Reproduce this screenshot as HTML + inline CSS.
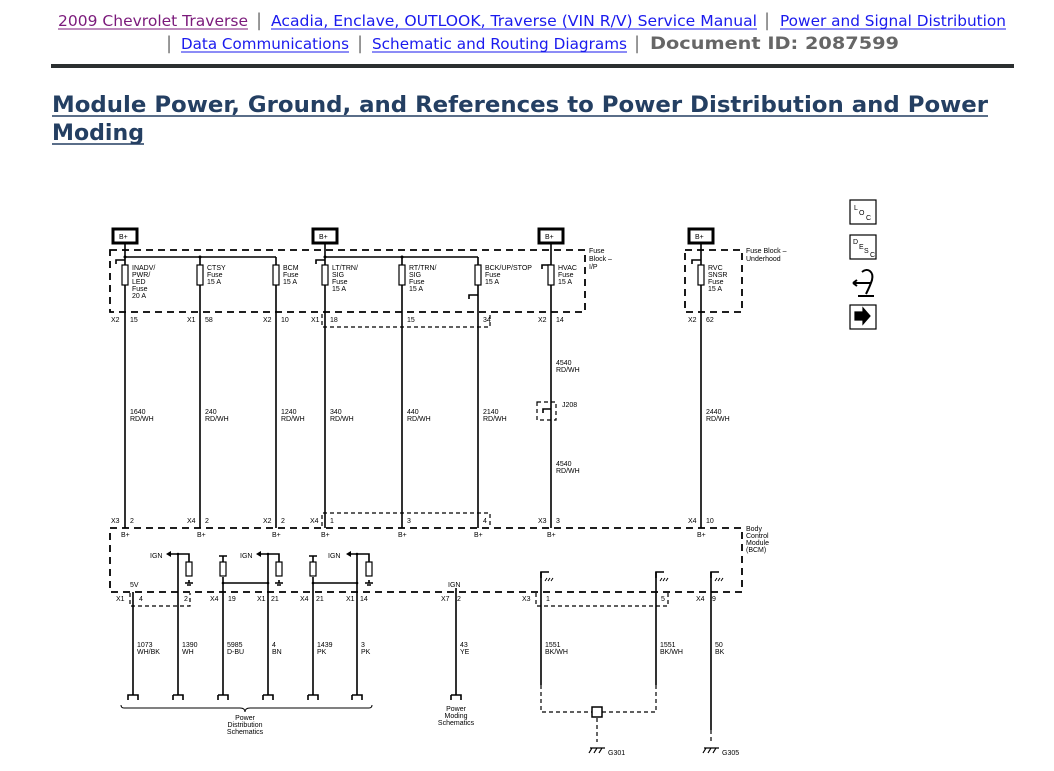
<!DOCTYPE html>
<html><head><meta charset="utf-8"><style>
html,body{margin:0;padding:0;background:#fff;width:1054px;height:771px;overflow:hidden}
svg{display:block}
.h{font-family:"DejaVu Sans",Verdana,sans-serif;font-size:15px}
.t{font-family:"DejaVu Sans",Verdana,sans-serif;font-size:22px;font-weight:bold;fill:#243f62}
.s{font-family:"Liberation Sans",Arial,sans-serif;font-size:7px;fill:#000}
.w{stroke:#000;stroke-width:1.6;fill:none}
.d{stroke:#000;stroke-width:1.8;fill:none;stroke-dasharray:7,5}
.dt{stroke:#000;stroke-width:1.2;fill:none;stroke-dasharray:4,3}
</style></head><body>
<svg width="1054" height="771" viewBox="0 0 1054 771" xmlns="http://www.w3.org/2000/svg">
<g class="h">
<text x="58" y="26" fill="#7b1a7b" textLength="190" lengthAdjust="spacingAndGlyphs">2009 Chevrolet Traverse</text>
<line x1="58" y1="29" x2="248" y2="29" stroke="#7b1a7b"/>
<text x="256" y="26" fill="#777" font-size="18">|</text>
<text x="271" y="26" fill="#1a1aee" textLength="486" lengthAdjust="spacingAndGlyphs">Acadia, Enclave, OUTLOOK, Traverse (VIN R/V) Service Manual</text>
<line x1="271" y1="29" x2="757" y2="29" stroke="#1a1aee"/>
<text x="764" y="26" fill="#777" font-size="18">|</text>
<text x="780" y="26" fill="#1a1aee" textLength="226" lengthAdjust="spacingAndGlyphs">Power and Signal Distribution</text>
<line x1="780" y1="29" x2="1006" y2="29" stroke="#1a1aee"/>
<text x="166" y="49" fill="#777" font-size="18">|</text>
<text x="181" y="49" fill="#1a1aee" textLength="168" lengthAdjust="spacingAndGlyphs">Data Communications</text>
<line x1="181" y1="52" x2="349" y2="52" stroke="#1a1aee"/>
<text x="357" y="49" fill="#777" font-size="18">|</text>
<text x="372" y="49" fill="#1a1aee" textLength="255" lengthAdjust="spacingAndGlyphs">Schematic and Routing Diagrams</text>
<line x1="372" y1="52" x2="627" y2="52" stroke="#1a1aee"/>
<text x="634" y="49" fill="#777" font-size="18">|</text>
<text x="650" y="49" fill="#666" font-weight="bold" font-size="17" textLength="249" lengthAdjust="spacingAndGlyphs">Document ID: 2087599</text>
</g>
<rect x="51" y="64" width="963" height="4" fill="#2b2f30"/>
<text class="t" x="52" y="112" textLength="936" lengthAdjust="spacingAndGlyphs">Module Power, Ground, and References to Power Distribution and Power</text>
<line x1="52" y1="116" x2="988" y2="116" stroke="#243f62" stroke-width="1.5"/>
<text class="t" x="52" y="140" textLength="92" lengthAdjust="spacingAndGlyphs">Moding</text>
<line x1="52" y1="144" x2="144" y2="144" stroke="#243f62" stroke-width="1.5"/>

<g stroke="#000" fill="none" stroke-width="1.2">
<rect x="850" y="200" width="26" height="24"/>
<rect x="850" y="235" width="26" height="24"/>
<rect x="850" y="305" width="26" height="24"/>
<path d="M855 312h8v-4l7 8-7 8v-4h-8z" fill="#000"/>
<path d="M853 283h18M853 283l4-3M853 283l4 3M858 296h16M862 272c6-5 12 0 10 8-2 6-4 10-6 14" stroke-width="2"/>
</g>
<g class="s" font-size="7">
<text x="854" y="210">L</text><text x="859" y="215">O</text><text x="866" y="220">C</text>
<text x="853" y="244">D</text><text x="859" y="249">E</text><text x="864" y="253">S</text><text x="870" y="257">C</text>
</g>

<g>
<rect x="113" y="229" width="24" height="14" fill="none" stroke="#000" stroke-width="3"/>
<rect x="313" y="229" width="24" height="14" fill="none" stroke="#000" stroke-width="3"/>
<rect x="539" y="229" width="24" height="14" fill="none" stroke="#000" stroke-width="3"/>
<rect x="689" y="229" width="24" height="14" fill="none" stroke="#000" stroke-width="3"/>
</g>
<g class="s"><text x="119" y="239">B+</text><text x="319" y="239">B+</text><text x="545" y="239">B+</text><text x="695" y="239">B+</text></g>

<path class="d" d="M110 250H585V312H110Z"/>
<path class="d" d="M685 250H742V312H685Z"/>
<path class="dt" d="M322 314V327H490V314"/>
<g class="s">
<text x="589" y="253">Fuse</text><text x="589" y="261">Block –</text><text x="589" y="269">I/P</text>
<text x="746" y="253">Fuse Block –</text><text x="746" y="261">Underhood</text>
</g>

<g class="w">
<path d="M125 243V528M200 257V528M276 257V528M325 243V528M402 257V528M478 257V528M551 243V528M701 243V528"/>
<path d="M125 257H276M325 257H478"/>
<path d="M116 264v-4h9M316 264v-4h9M542 269v-4h9M692 264v-4h9M469 299v-4h9"/>
</g>
<g fill="#fff" stroke="#000" stroke-width="1.2">
<rect x="122" y="265" width="6" height="20"/><rect x="197" y="265" width="6" height="20"/><rect x="273" y="265" width="6" height="20"/>
<rect x="322" y="265" width="6" height="20"/><rect x="399" y="265" width="6" height="20"/><rect x="475" y="265" width="6" height="20"/>
<rect x="548" y="265" width="6" height="20"/><rect x="698" y="265" width="6" height="20"/>
</g>
<g fill="#000"><circle cx="125" cy="257" r="1.5"/><circle cx="200" cy="257" r="1.5"/><circle cx="325" cy="257" r="1.5"/><circle cx="402" cy="257" r="1.5"/></g>
<g class="s">
<text x="132" y="270">INADV/</text><text x="132" y="277">PWR/</text><text x="132" y="284">LED</text><text x="132" y="291">Fuse</text><text x="132" y="298">20 A</text>
<text x="207" y="270">CTSY</text><text x="207" y="277">Fuse</text><text x="207" y="284">15 A</text>
<text x="283" y="270">BCM</text><text x="283" y="277">Fuse</text><text x="283" y="284">15 A</text>
<text x="332" y="270">LT/TRN/</text><text x="332" y="277">SIG</text><text x="332" y="284">Fuse</text><text x="332" y="291">15 A</text>
<text x="409" y="270">RT/TRN/</text><text x="409" y="277">SIG</text><text x="409" y="284">Fuse</text><text x="409" y="291">15 A</text>
<text x="485" y="270">BCK/UP/STOP</text><text x="485" y="277">Fuse</text><text x="485" y="284">15 A</text>
<text x="558" y="270">HVAC</text><text x="558" y="277">Fuse</text><text x="558" y="284">15 A</text>
<text x="708" y="270">RVC</text><text x="708" y="277">SNSR</text><text x="708" y="284">Fuse</text><text x="708" y="291">15 A</text>
<text x="111" y="322">X2</text><text x="130" y="322">15</text>
<text x="187" y="322">X1</text><text x="205" y="322">58</text>
<text x="263" y="322">X2</text><text x="281" y="322">10</text>
<text x="311" y="322">X1</text><text x="330" y="322">18</text>
<text x="407" y="322">15</text><text x="483" y="322">34</text>
<text x="538" y="322">X2</text><text x="556" y="322">14</text>
<text x="688" y="322">X2</text><text x="706" y="322">62</text>
<text x="130" y="414">1640</text><text x="130" y="421">RD/WH</text>
<text x="205" y="414">240</text><text x="205" y="421">RD/WH</text>
<text x="281" y="414">1240</text><text x="281" y="421">RD/WH</text>
<text x="330" y="414">340</text><text x="330" y="421">RD/WH</text>
<text x="407" y="414">440</text><text x="407" y="421">RD/WH</text>
<text x="483" y="414">2140</text><text x="483" y="421">RD/WH</text>
<text x="556" y="365">4540</text><text x="556" y="372">RD/WH</text>
<text x="562" y="407">J208</text>
<text x="556" y="466">4540</text><text x="556" y="473">RD/WH</text>
<text x="706" y="414">2440</text><text x="706" y="421">RD/WH</text>
</g>
<path class="dt" d="M537 402h19v18h-19z"/>
<path class="w" d="M543 413v-4h8"/>

<path class="d" d="M110 528H742V592H110Z"/>
<path class="dt" d="M322 526V513H490V526"/>
<g class="s">
<text x="746" y="531">Body</text><text x="746" y="538">Control</text><text x="746" y="545">Module</text><text x="746" y="552">(BCM)</text>
<text x="111" y="523">X3</text><text x="130" y="523">2</text>
<text x="187" y="523">X4</text><text x="205" y="523">2</text>
<text x="263" y="523">X2</text><text x="281" y="523">2</text>
<text x="310" y="523">X4</text><text x="330" y="523">1</text>
<text x="407" y="523">3</text><text x="483" y="523">4</text>
<text x="538" y="523">X3</text><text x="556" y="523">3</text>
<text x="688" y="523">X4</text><text x="706" y="523">10</text>
<text x="121" y="537">B+</text><text x="197" y="537">B+</text><text x="272" y="537">B+</text><text x="321" y="537">B+</text><text x="398" y="537">B+</text><text x="474" y="537">B+</text><text x="547" y="537">B+</text><text x="697" y="537">B+</text>
<text x="150" y="558">IGN</text><text x="240" y="558">IGN</text><text x="328" y="558">IGN</text>
<text x="130" y="587">5V</text><text x="448" y="587">IGN</text>
<text x="116" y="601">X1</text><text x="139" y="601">4</text><text x="184" y="601">2</text>
<text x="210" y="601">X4</text><text x="228" y="601">19</text>
<text x="257" y="601">X1</text><text x="271" y="601">21</text>
<text x="300" y="601">X4</text><text x="316" y="601">21</text>
<text x="346" y="601">X1</text><text x="360" y="601">14</text>
<text x="441" y="601">X7</text><text x="457" y="601">2</text>
<text x="522" y="601">X3</text><text x="546" y="601">1</text><text x="661" y="601">5</text>
<text x="696" y="601">X4</text><text x="712" y="601">9</text>
</g>
<path class="dt" d="M130 593V606H190V593"/>
<path class="dt" d="M536 593V606H668V593"/>
<g class="w" stroke-width="1.3">
<path d="M170 554H189V566M189 580V583M185 583h8M187 585h4"/>
<path d="M260 554H279V566M279 580V583M275 583h8M277 585h4"/>
<path d="M350 554H369V566M369 580V583M365 583h8M367 585h4"/>
<path d="M223 556v6M219 556h8M223 577v6H268M313 556v6M309 556h8M313 577v6H357"/>
<path d="M541 578v-6h8M656 578v-6h8M711 578v-6h8"/>
</g>
<g fill="#000"><path d="M166 554l5-3v6z"/><path d="M256 554l5-3v6z"/><path d="M346 554l5-3v6z"/>
<circle cx="178" cy="554" r="1.3"/><circle cx="268" cy="554" r="1.3"/><circle cx="357" cy="554" r="1.3"/><circle cx="268" cy="583" r="1.3"/><circle cx="357" cy="583" r="1.3"/><circle cx="223" cy="583" r="1.3"/><circle cx="313" cy="583" r="1.3"/></g>
<g fill="#fff" stroke="#000" stroke-width="1.2">
<rect x="186" y="562" width="6" height="14"/><rect x="276" y="562" width="6" height="14"/><rect x="366" y="562" width="6" height="14"/>
<rect x="220" y="562" width="6" height="14"/><rect x="310" y="562" width="6" height="14"/>
</g>
<g stroke="#000" stroke-width="1" fill="none"><path d="M547 578l-2 3M550 578l-2 3M553 578l-2 3M662 578l-2 3M665 578l-2 3M668 578l-2 3M717 578l-2 3M720 578l-2 3M723 578l-2 3"/></g>
<g class="w">
<path d="M133 592V695M178 554V695M223 583V695M268 554V695M313 583V695M357 554V695M456 588V695"/>
<path d="M541 572V685M656 572V685M711 572V730"/>
<path d="M128 700v-5h10v5M173 695h10v5M173 695v5M218 695h10v5M218 695v5M263 695h10v5M263 695v5M308 695h10v5M308 695v5M352 695h10v5M352 695v5M451 695h10v5M451 695v5"/>
<path d="M121 705q0 3 3 3H240q5 0 5 4q0-4 5-4H369q3 0 3-3" stroke-width="1"/>
</g>
<path class="dt" d="M541 685V712H592M602 712H656V685M597 718V742M711 730V742" stroke-width="1.3"/>
<rect x="592" y="707" width="10" height="10" fill="#fff" stroke="#000" stroke-width="1.5"/>
<g stroke="#000" stroke-width="1.2"><path d="M590 748h15M592 748l-3 5M597 748l-3 5M602 748l-3 5M704 748h15M706 748l-3 5M711 748l-3 5M716 748l-3 5"/></g>
<g class="s">
<text x="137" y="647">1073</text><text x="137" y="654">WH/BK</text>
<text x="182" y="647">1390</text><text x="182" y="654">WH</text>
<text x="227" y="647">5985</text><text x="227" y="654">D-BU</text>
<text x="272" y="647">4</text><text x="272" y="654">BN</text>
<text x="317" y="647">1439</text><text x="317" y="654">PK</text>
<text x="361" y="647">3</text><text x="361" y="654">PK</text>
<text x="460" y="647">43</text><text x="460" y="654">YE</text>
<text x="545" y="647">1551</text><text x="545" y="654">BK/WH</text>
<text x="660" y="647">1551</text><text x="660" y="654">BK/WH</text>
<text x="715" y="647">50</text><text x="715" y="654">BK</text>
<text x="245" y="720" text-anchor="middle">Power</text><text x="245" y="727" text-anchor="middle">Distribution</text><text x="245" y="734" text-anchor="middle">Schematics</text>
<text x="456" y="711" text-anchor="middle">Power</text><text x="456" y="718" text-anchor="middle">Moding</text><text x="456" y="725" text-anchor="middle">Schematics</text>
<text x="608" y="755">G301</text><text x="722" y="755">G305</text>
</g>
</svg>
</body></html>
